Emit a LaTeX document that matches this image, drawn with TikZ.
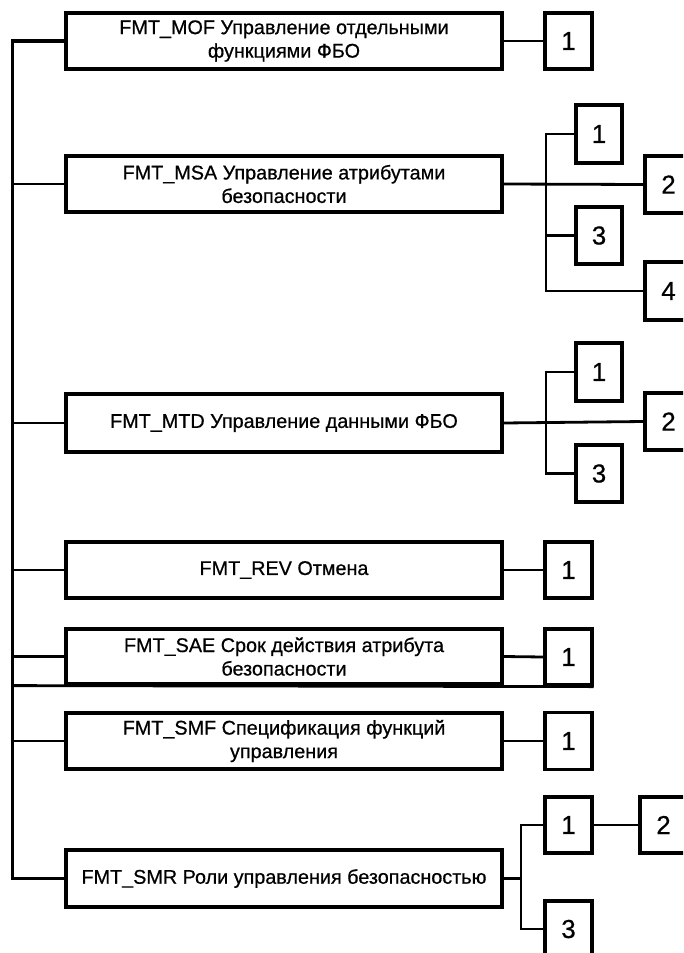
\documentclass[tikz,border=0pt]{standalone}
\usepackage{fontspec}
\setmainfont{Liberation Sans}[FakeBold=0.6]
\begin{document}
\begin{tikzpicture}[x=1pt,y=-1pt,
  mainbox/.style={draw, line width=3.2pt, minimum width=436pt, minimum height=56pt, inner sep=0pt, align=center, font=\fontsize{19.8}{23.5}\selectfont},
  numbox/.style={draw, line width=3.2pt, minimum width=47pt, minimum height=56pt, inner sep=0pt, font=\fontsize{26}{28}\selectfont},
  conn/.style={line width=2.8pt}]
\useasboundingbox (0,0) rectangle (683,953);
\clip (0,0) rectangle (683,953);
\fill[white] (0,0) rectangle (683,953);
% main boxes
\node[mainbox] (mof) at (284,41) {FMT\_MOF Управление отдельными\\функциями ФБО};
\node[mainbox] (msa) at (284,184) {FMT\_MSA Управление атрибутами\\безопасности};
\node[mainbox, minimum height=58pt] (mtd) at (284,423) {FMT\_MTD Управление данными ФБО};
\node[mainbox] (rev) at (284,570) {FMT\_REV Отмена};
\node[mainbox, minimum height=55pt] (sae) at (284,656.5) {FMT\_SAE Срок действия атрибута\\безопасности};
\node[mainbox] (smf) at (284,741) {FMT\_SMF Спецификация функций\\управления};
\node[mainbox, minimum height=57pt] (smr) at (284,878.5) {FMT\_SMR Роли управления безопасностью};
% number boxes
\node[numbox] (mof1) at (568.5,41) {1};
\node[numbox, minimum width=46pt, minimum height=58pt] (msa1) at (599,134) {1};
\node[numbox, minimum height=57pt] (msa2) at (668.5,184.5) {2};
\node[numbox, minimum width=46pt, minimum height=57pt] (msa3) at (599,235.5) {3};
\node[numbox, minimum height=58pt] (msa4) at (668.5,291) {4};
\node[numbox, minimum width=46pt, minimum height=58pt] (mtd1) at (599,372) {1};
\node[numbox, minimum height=57pt] (mtd2) at (668.5,421.5) {2};
\node[numbox, minimum width=46pt, minimum height=57pt] (mtd3) at (599,473.5) {3};
\node[numbox] (rev1) at (568.5,570) {1};
\node[numbox] (sae1) at (568.5,657) {1};
\node[numbox, minimum height=57pt] (smf1) at (568.5,741) {1};
\node[numbox] (smr1) at (568.5,825) {1};
\node[numbox] (smr2) at (663.5,825) {2};
\node[numbox] (smr3) at (568.5,929) {3};
% trunk
\coordinate (tt) at (12.7,41);
\coordinate (tb) at (12.7,878.5);
\draw[conn, line width=3.2pt] (mof.west) -- (tt) -- (tb) -- (smr.west);
\draw[conn] (msa.west) -- (msa.west -| tt);
\draw[conn] (mtd.west) -- (mtd.west -| tt);
\draw[conn] (rev.west) -- (rev.west -| tt);
\draw[conn] (sae.west) -- (sae.west -| tt);
\draw[conn] (smf.west) -- (smf.west -| tt);
\draw[conn] (sae.south -| tt) -- (sae1.south east);
% single links
\draw[conn] (mof.east) -- (mof1.west);
\draw[conn] (rev.east) -- (rev1.west);
\draw[conn] (sae.east) -- (sae1.west);
\draw[conn] (smf.east) -- (smf1.west);
% MSA branch
\coordinate (mb) at (546,184);
\draw[conn] (msa.east) -- (msa2.west);
\draw[conn] (msa1.west) -- (msa1.west -| mb) -- (msa4.west -| mb) -- (msa4.west);
\draw[conn] (msa3.west) -- (msa3.west -| mb);
% MTD branch
\coordinate (tdb) at (546,423);
\draw[conn] (mtd.east) -- (mtd2.west);
\draw[conn] (mtd1.west) -- (mtd1.west -| tdb) -- (mtd3.west -| tdb) -- (mtd3.west);
% SMR branch
\coordinate (sb) at (521,878.5);
\draw[conn] (smr.east) -- (sb);
\draw[conn] (smr1.west) -- (smr1.west -| sb) -- (smr3.west -| sb) -- (smr3.west);
\draw[conn] (smr1.east) -- (smr2.west);
\end{tikzpicture}
\end{document}
